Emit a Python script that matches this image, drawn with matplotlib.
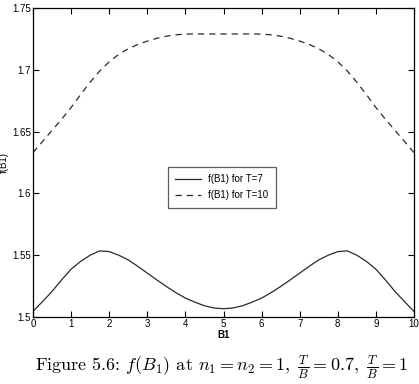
import matplotlib
matplotlib.use("Agg")
import matplotlib.pyplot as plt

plt.rcParams['font.family'] = ['Liberation Sans', 'DejaVu Sans']
plt.rcParams['mathtext.fontset'] = 'cm'

b1 = [0, 0.25, 0.5, 0.75, 1.0, 1.25, 1.5, 1.75, 2.0, 2.25, 2.5, 2.75, 3.0, 3.25, 3.5, 3.75,
      4.0, 4.25, 4.5, 4.75, 5.0, 5.25, 5.5, 5.75, 6.0, 6.25, 6.5, 6.75, 7.0, 7.25, 7.5, 7.75,
      8.0, 8.25, 8.5, 8.75, 9.0, 9.25, 9.5, 9.75, 10.0]
f_t7 = [1.5045, 1.5125, 1.5207, 1.530, 1.5387, 1.545, 1.550, 1.5535, 1.5529, 1.550, 1.5462,
        1.541, 1.5355, 1.530, 1.5247, 1.5197, 1.5153, 1.512, 1.5091, 1.5073, 1.5067,
        1.5073, 1.5091, 1.512, 1.5153, 1.5197, 1.5247, 1.530, 1.5355, 1.541, 1.5462,
        1.550, 1.5529, 1.5535, 1.550, 1.545, 1.5387, 1.530, 1.5207, 1.5125, 1.5045]
f_t10 = [1.633, 1.642, 1.651, 1.660, 1.6695, 1.680, 1.690, 1.699, 1.7065, 1.7125, 1.717,
         1.7205, 1.7232, 1.7255, 1.7272, 1.7283, 1.7289, 1.729, 1.729, 1.729, 1.729,
         1.729, 1.729, 1.729, 1.7289, 1.7283, 1.7272, 1.7255, 1.7232, 1.7205, 1.717,
         1.7125, 1.7065, 1.699, 1.690, 1.680, 1.6695, 1.660, 1.651, 1.642, 1.633]

xticks = list(range(0, 11))
yticks = [1.5, 1.55, 1.6, 1.65, 1.7, 1.75]
ytick_labels = ["1.5", "1.55", "1.6", "1.65", "1.7", "1.75"]

fig = plt.figure(figsize=(4.19, 3.84), dpi=100)
ax = fig.add_axes([33/419, 1 - 317/384, 381/419, 309/384])

ax.plot(b1, f_t7, color='#2a2a2a', lw=0.9, label='f(B1) for T=7')
ax.plot(b1, f_t10, color='#2a2a2a', lw=0.9, ls=(0, (5, 4)), label='f(B1) for T=10')

ax.set_xlim(0, 10)
ax.set_ylim(1.5, 1.75)
ax.set_xticks(xticks)
ax.set_yticks(yticks)
ax.set_yticklabels(ytick_labels)
ax.tick_params(direction='in', top=True, right=True, labelsize=7, length=4, width=0.8, pad=1.5)
for s in ax.spines.values():
    s.set_linewidth(0.9)

ax.set_xlabel('B1', fontsize=7, fontweight='bold', labelpad=1)
ax.set_ylabel('f(B1)', fontsize=7, labelpad=2)

leg = ax.legend(loc='center', bbox_to_anchor=(0.496, 0.42), fontsize=7, frameon=True,
                fancybox=False, edgecolor='#333333', handlelength=2.6, borderpad=0.8,
                labelspacing=0.6)
leg.get_frame().set_linewidth(0.9)

fig.text(0.528, 1 - 367/384,
         r'Figure 5.6: $f(B_1)$ at $n_1 = n_2 = 1,\ \frac{T}{B} = 0.7,\ \frac{T}{B} = 1$',
         ha='center', va='center', fontsize=13, family='cmr10', math_fontfamily='cm')

fig.savefig('out.png', dpi=100)
